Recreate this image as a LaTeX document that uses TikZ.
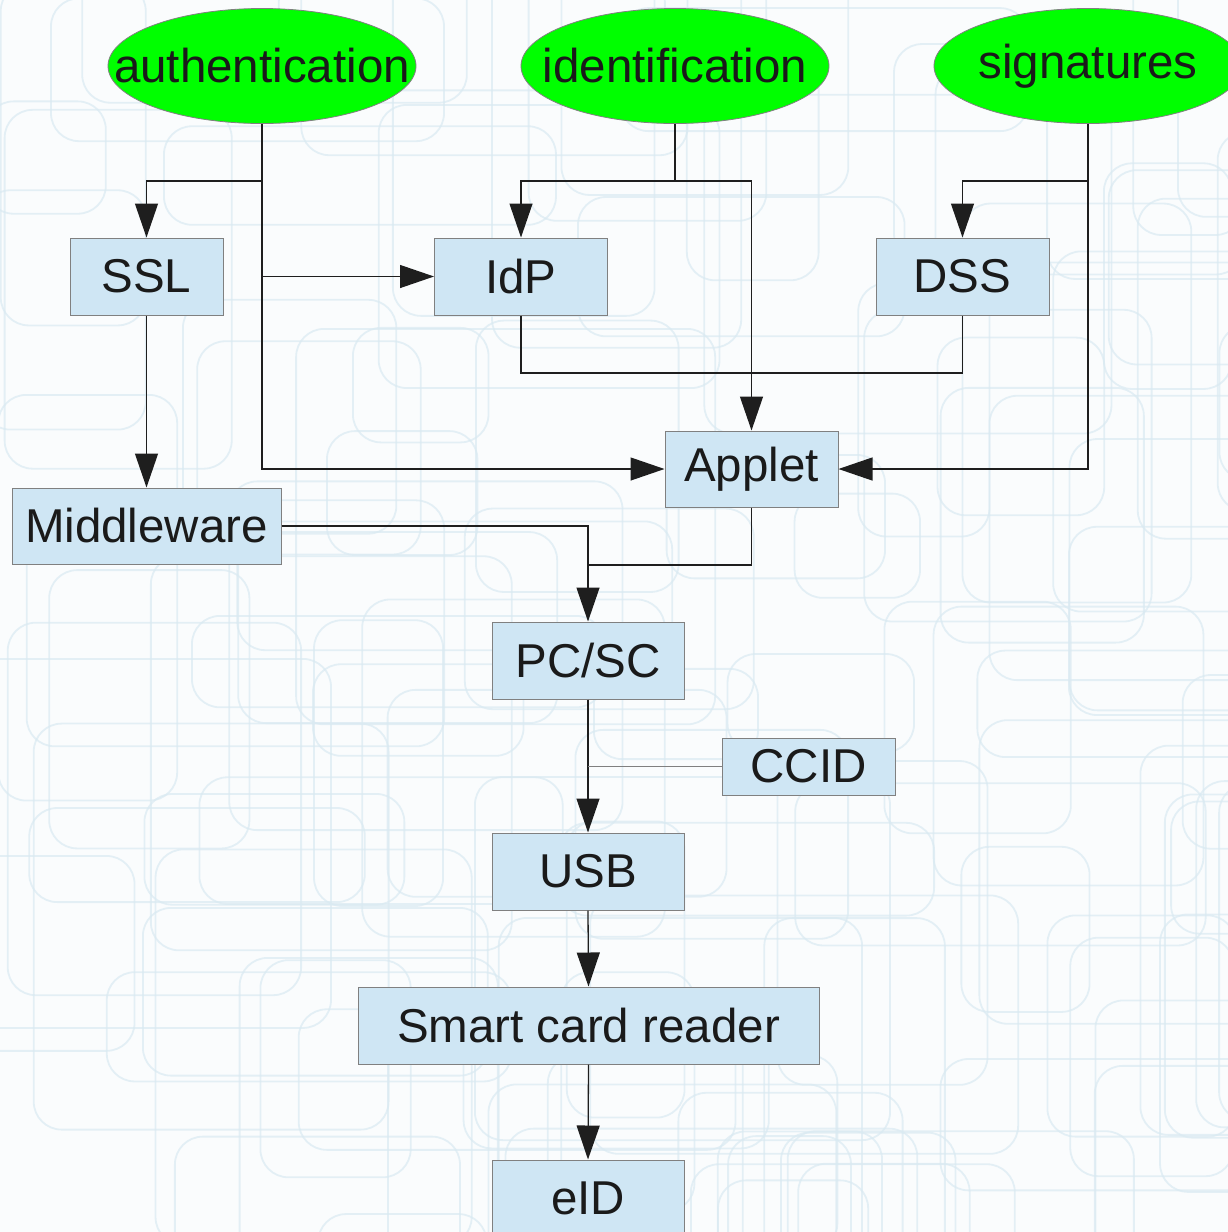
\documentclass[tikz,border=0pt]{standalone}
\usepackage{fontspec}
\setmainfont{Liberation Sans}
\usetikzlibrary{arrows.meta,shapes.geometric}

\definecolor{boxfill}{RGB}{207,230,244}
\definecolor{boxedge}{RGB}{128,128,128}
\definecolor{goalfill}{RGB}{0,255,0}
\definecolor{inkcol}{RGB}{26,26,26}
\definecolor{wirecol}{RGB}{30,30,30}
\definecolor{paper}{RGB}{250,252,253}
\definecolor{tracecol}{RGB}{218,234,242}

\newcommand{\zerowide}[1]{\makebox[0pt][c]{#1}}

\tikzset{
  labeltext/.style={font=\fontsize{47.5pt}{57pt}\selectfont, text=inkcol},
  layer/.style={rectangle, draw=boxedge, line width=1pt, fill=boxfill,
    inner sep=0pt, minimum height=77pt, labeltext},
  goal/.style={ellipse, draw=boxedge, line width=0.8pt, fill=goalfill,
    inner sep=0pt, minimum width=308pt, minimum height=115pt, labeltext},
  wire/.style={draw=wirecol, line width=1.3pt},
  arr/.style={wire, -{Triangle[length=34pt,width=23pt]}},
  faint/.style={draw=boxedge, line width=0.8pt},
  trace/.style={draw=tracecol, line width=1.8pt, rounded corners=28pt, opacity=0.7},
}

\begin{document}
\begin{tikzpicture}[x=1pt, y=-1pt]
\useasboundingbox (0,0) rectangle (1228,1232);

% pale circuit-like backdrop
\fill[paper] (0,0) rectangle (1228,1232);
\pgfmathsetseed{4242}
\begin{scope}
  \clip (0,0) rectangle (1228,1232);
  \foreach \k in {1,...,120}{
    \pgfmathsetmacro\bx{rnd*1340-80}
    \pgfmathsetmacro\by{rnd*1340-80}
    \pgfmathsetmacro\bw{110+rnd*330}
    \pgfmathsetmacro\bh{90+rnd*320}
    \draw[trace] (\bx,\by) rectangle ++(\bw,\bh);
  }
\end{scope}

% use cases
\node[goal] (auth)  at (262,66)  {\zerowide{authentication}};
\node[goal] (ident) at (675,66)  {\zerowide{identification}};
\node[goal] (sig)   at (1088,66) {\zerowide{signatures}};

% software and hardware layers
\node[layer, minimum width=153pt] (ssl)    at (146.5,276.5) {SSL};
\node[layer, minimum width=173pt] (idp)    at (521,276.5)   {IdP};
\node[layer, minimum width=173pt] (dss)    at (962.5,276.5) {DSS};
\node[layer, minimum width=173pt, minimum height=76pt] (applet) at (751.5,469) {Applet};
\node[layer, minimum width=269pt, minimum height=76pt] (mw)     at (146.5,526) {Middleware};
\node[layer, minimum width=192pt] (pcsc)   at (588,660.5)   {PC/SC};
\node[layer, minimum width=173pt, minimum height=57pt] (ccid) at (808.5,766.5) {CCID};
\node[layer, minimum width=192pt] (usb)    at (588,871.5)   {USB};
\node[layer, minimum width=461pt] (scr)    at (588.5,1025.5) {Smart card reader};
\node[layer, minimum width=192pt] (eid)    at (588,1198.5)  {eID};

% branch points
\coordinate (a1) at (262,181);
\coordinate (i1) at (675,181);
\coordinate (s1) at (1088,181);
\coordinate (j1) at (751.5,373);
\coordinate (j2) at (588,565);

% authentication
\draw[wire] (auth.south) -- (a1);
\draw[arr] (a1) -| (ssl.north);
\draw[arr] (a1) |- (idp.west);
\draw[arr] (a1) |- (applet.west);

% identification
\draw[wire] (ident.south) -- (i1);
\draw[arr] (i1) -| (idp.north);
\draw[arr] (i1) -| (applet.north);

% signatures
\draw[wire] (sig.south) -- (s1);
\draw[arr] (s1) -| (dss.north);
\draw[arr] (s1) |- (applet.east);

% services into the applet
\draw[wire] (idp.south) |- (j1);
\draw[wire] (dss.south) |- (j1);

% stack down to the card
\draw[arr] (ssl.south) -- (mw.north);
\draw[arr] (mw.east) -| (pcsc.north);
\draw[wire] (applet.south) |- (j2);
\draw[arr] (pcsc.south) -- (usb.north);
\draw[faint] (ccid.west) -- (pcsc.south |- ccid.west);
\draw[arr] (usb.south) -- (scr.north);
\draw[arr] (scr.south) -- (eid.north);
\end{tikzpicture}
\end{document}
